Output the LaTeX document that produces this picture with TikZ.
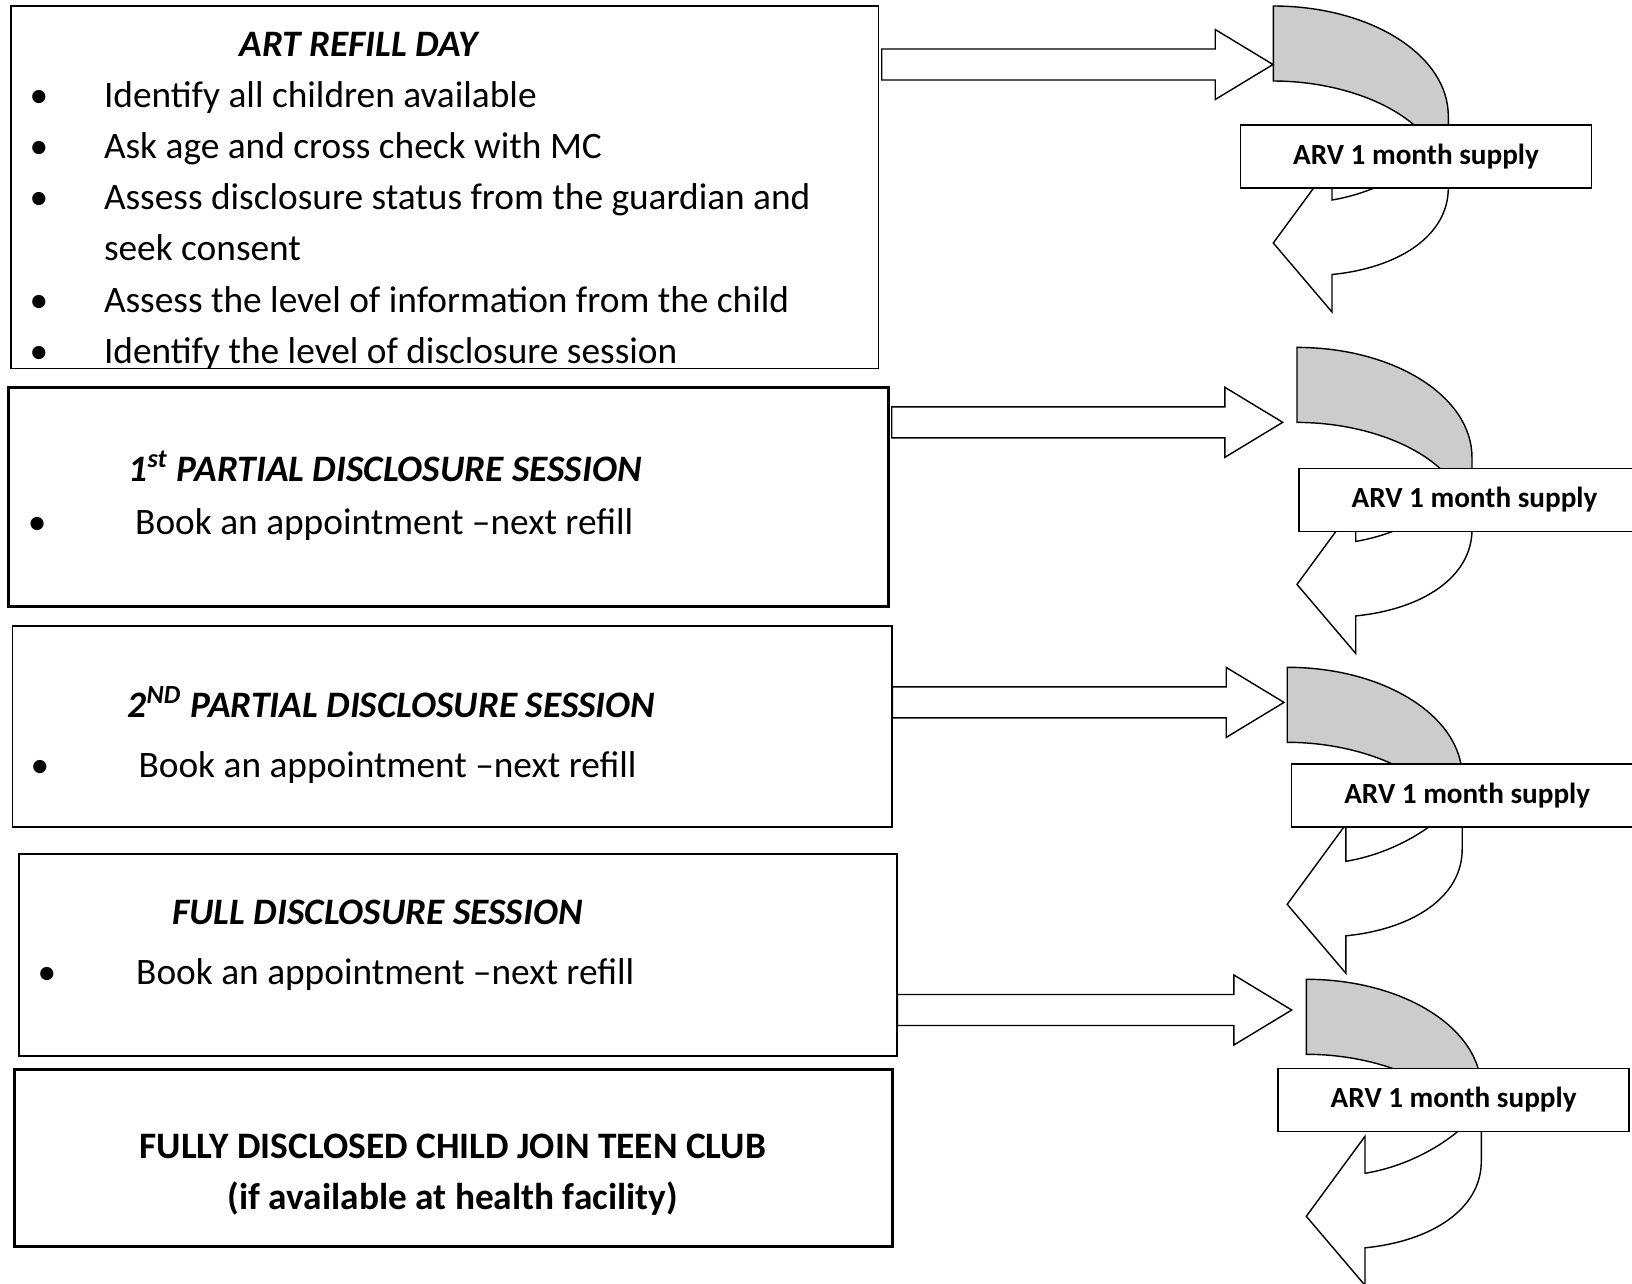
\documentclass[tikz,border=0pt]{standalone}
\usepackage{fontspec}
\setmainfont{Carlito}
\usepackage{xcolor}
\usetikzlibrary{calc}

\definecolor{backgray}{HTML}{CCCCCC}
\newcommand\bodyfont{\fontsize{10.62}{14.6}\selectfont}

\tikzset{
  panel/.style={draw, line width=0.45pt, inner sep=0pt},
  heavypanel/.style={panel, line width=0.85pt},
  supplybox/.style={draw, fill=white, line width=0.45pt, inner sep=0pt,
    minimum width=3.51cm, minimum height=0.63cm,
    font=\fontsize{8.3}{10}\selectfont\bfseries},
  line/.style={anchor=base west, inner sep=0pt, font=\bodyfont},
  head/.style={anchor=base west, inner sep=0pt, font=\bodyfont\bfseries\itshape},
  dot/.style={anchor=base, inner sep=0pt, font=\bodyfont},
  blockarrow/.style={draw, fill=white, line width=0.4pt},
  refill loop/.pic={
    % shaded back part
    \draw[fill=backgray, line width=0.4pt] (0,0) .. controls (97,0) and (175,49) .. (175,110)
      -- (175,150) -- (150,150) -- (150,128) .. controls (120,95) and (60,75) .. (0,75) -- cycle;
    % front part with the head
    \draw[fill=white, line width=0.4pt] (175,140) -- (175,182) .. controls (175,230) and (125,262) .. (58.7,268.5)
      -- (58.7,306) -- (0,237) -- (58.7,157) -- (58.7,194)
      .. controls (95,188) and (135,170) .. (165,140) -- cycle;
  }
}

\begin{document}
\begin{tikzpicture}[x=0.01cm, y=-0.01cm]
  \useasboundingbox (0,0) rectangle (1632,1284);
  \clip (0,0) rectangle (1632,1284);

  % left column
  \node[panel, minimum width=8.668cm, minimum height=3.623cm] (refill) at (444.9,187.15) {};
  \node[heavypanel, minimum width=8.80cm, minimum height=2.187cm] (first) at (448.6,496.65) {};
  \node[panel, minimum width=8.789cm, minimum height=2.007cm] (second) at (452.05,726.35) {};
  \node[panel, minimum width=8.777cm, minimum height=2.02cm] (full) at (457.85,955) {};
  \node[heavypanel, minimum width=8.784cm, minimum height=1.774cm] (teen) at (453.5,1158) {};

  \node[head] (refillhead) at (239,56) {ART REFILL DAY};
  \node[dot] (b11) at (39,107.7) {•};
  \node[line] (l11) at (103.3,107.7) {Identify all children available};
  \node[dot] (b12) at (39,158.7) {•};
  \node[line] (l12) at (103.3,158.7) {Ask age and cross check with MC};
  \node[dot] (b13) at (39,209.7) {•};
  \node[line] (l13) at (103.3,209.7) {Assess disclosure status from the guardian and};
  \node[line] (l14) at (103.3,260.7) {seek consent};
  \node[dot] (b15) at (39,312) {•};
  \node[line] (l15) at (103.3,312) {Assess the level of information from the child};
  \node[dot] (b16) at (39,363) {•};
  \node[line] (l16) at (103.3,363) {Identify the level of disclosure session};

  \node[head] (firsthead) at (128,481) {1\textsuperscript{st} PARTIAL DISCLOSURE SESSION};
  \node[dot] (b21) at (37.3,534) {•};
  \node[line] (l21) at (134.5,534) {Book an appointment –next refill};

  \node[head] (secondhead) at (127,717.5) {2\textsuperscript{ND} PARTIAL DISCLOSURE SESSION};
  \node[dot] (b31) at (40,777.5) {•};
  \node[line] (l31) at (137.8,777.5) {Book an appointment –next refill};

  \node[head] (fullhead) at (171.5,924) {FULL DISCLOSURE SESSION};
  \node[dot] (b41) at (47,984) {•};
  \node[line] (l41) at (135.5,984) {Book an appointment –next refill};

  \node[dot, font=\bodyfont\bfseries] (teen1) at (452.8,1158) {FULLY DISCLOSED CHILD JOIN TEEN CLUB};
  \node[dot, font=\bodyfont\bfseries] (teen2) at (452.8,1209) {(if available at health facility)};

  % curved supply arrows
  \pic (loop1) at (1273.3,6) {refill loop};
  \pic (loop2) at (1297,347.4) {refill loop};
  \pic (loop3) at (1287.2,667.3) {refill loop};
  \pic (loop4) at (1306.3,979.3) {refill loop};

  \node[supplybox] (arv1) at (1416,156.25) {ARV 1 month supply};
  \node[supplybox] (arv2) at (1474.5,500) {ARV 1 month supply};
  \node[supplybox] (arv3) at (1467.2,795.35) {ARV 1 month supply};
  \node[supplybox] (arv4) at (1453.65,1100) {ARV 1 month supply};

  % block arrows
  \coordinate (s1) at (881.7,64.5);
  \coordinate (t1) at (1273,64.5);
  \coordinate (s2) at (891.7,422.3);
  \coordinate (t2) at (1282.7,422.3);
  \coordinate (s3) at (892.3,702.4);
  \coordinate (t3) at (1284,702.4);
  \coordinate (s4) at (897.3,1010);
  \coordinate (t4) at (1291.7,1010);

  \draw[blockarrow] ($(s1)+(0,-15.5)$) -- ($(t1)+(-57.8,-15.5)$) -- ($(t1)+(-57.8,-35)$) -- (t1)
    -- ($(t1)+(-57.8,35)$) -- ($(t1)+(-57.8,15.5)$) -- ($(s1)+(0,15.5)$) -- cycle;
  \draw[blockarrow] ($(s2)+(0,-15.5)$) -- ($(t2)+(-57.8,-15.5)$) -- ($(t2)+(-57.8,-35)$) -- (t2)
    -- ($(t2)+(-57.8,35)$) -- ($(t2)+(-57.8,15.5)$) -- ($(s2)+(0,15.5)$) -- cycle;
  \draw[blockarrow] ($(s3)+(0,-15.5)$) -- ($(t3)+(-57.8,-15.5)$) -- ($(t3)+(-57.8,-35)$) -- (t3)
    -- ($(t3)+(-57.8,35)$) -- ($(t3)+(-57.8,15.5)$) -- ($(s3)+(0,15.5)$) -- cycle;
  \draw[blockarrow] ($(s4)+(0,-15.5)$) -- ($(t4)+(-57.8,-15.5)$) -- ($(t4)+(-57.8,-35)$) -- (t4)
    -- ($(t4)+(-57.8,35)$) -- ($(t4)+(-57.8,15.5)$) -- ($(s4)+(0,15.5)$) -- cycle;
\end{tikzpicture}
\end{document}
